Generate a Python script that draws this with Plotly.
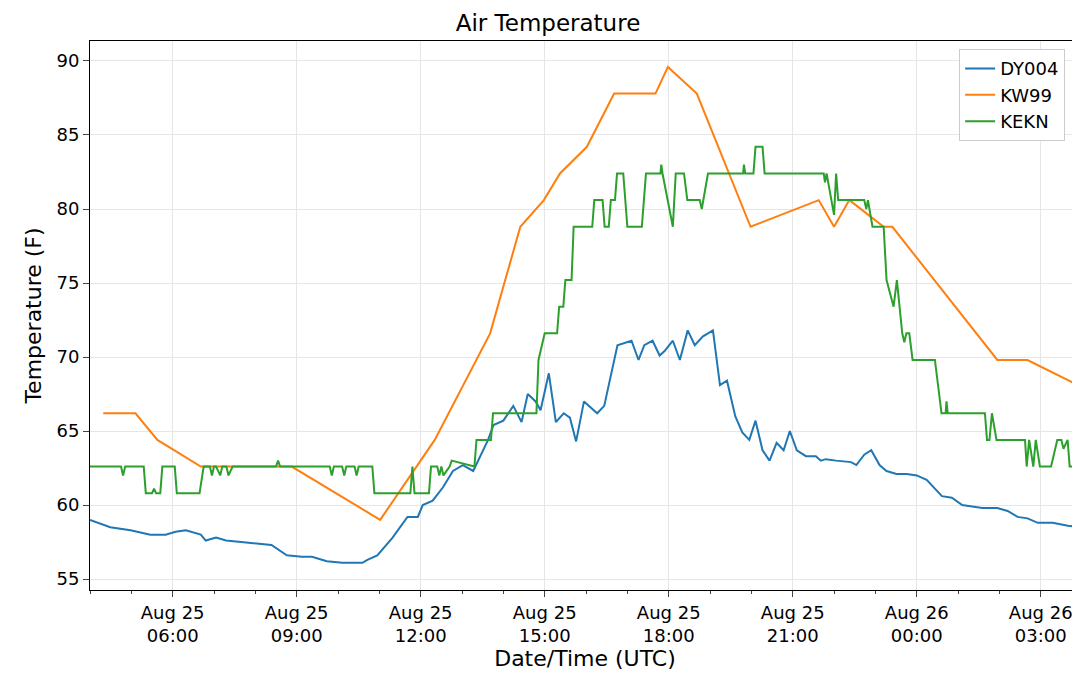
import plotly.graph_objects as go
import pandas as pd


def to_time(hours):
    """Часы от полуночи 25 августа -> метки времени."""
    return [pd.Timestamp("2025-08-25") + pd.Timedelta(hours=h) for h in hours]


dy004 = {
    'h': [4.0, 4.49, 4.98, 5.46, 5.83, 6.07, 6.32, 6.68, 6.80, 7.05, 7.29, 7.66, 8.02, 8.39, 8.76, 9.12,
          9.37, 9.73, 10.10, 10.59, 10.71, 10.95, 11.32, 11.68, 11.93, 12.05, 12.29, 12.54, 12.78, 13.02,
          13.27, 13.39, 13.63, 13.76, 14.0, 14.24, 14.44, 14.59, 14.78, 14.90, 15.10, 15.27, 15.46, 15.61,
          15.76, 15.95, 16.27, 16.44, 16.76, 17.10, 17.27, 17.41, 17.61, 17.78, 17.90, 18.10, 18.27, 18.46,
          18.63, 18.83, 19.07, 19.24, 19.41, 19.61, 19.78, 19.95, 20.10, 20.27, 20.44, 20.61, 20.78, 20.93,
          21.10, 21.32, 21.56, 21.68, 21.80, 22.05, 22.41, 22.54, 22.73, 22.90, 23.10, 23.27, 23.51, 23.76,
          24.0, 24.24, 24.61, 24.85, 25.10, 25.34, 25.59, 25.95, 26.20, 26.44, 26.68, 26.93, 27.29, 27.66, 27.95],
    'y': [59.0, 58.5, 58.3, 58.0, 58.0, 58.2, 58.3, 58.0, 57.6, 57.8, 57.6, 57.5, 57.4, 57.3, 56.6, 56.5,
          56.5, 56.2, 56.1, 56.1, 56.3, 56.6, 57.8, 59.2, 59.2, 60.0, 60.3, 61.2, 62.3, 62.7,
          62.3, 63.0, 64.4, 65.4, 65.7, 66.7, 65.6, 67.5, 67.0, 66.4, 68.9, 65.6, 66.2, 65.9,
          64.3, 67.0, 66.2, 66.7, 70.8, 71.1, 69.8, 70.8, 71.1, 70.1, 70.4, 71.1, 69.8, 71.8,
          70.8, 71.4, 71.8, 68.1, 68.4, 66.0, 64.9, 64.4, 65.7, 63.7, 63.0, 64.2, 63.7, 65.0,
          63.7, 63.3, 63.3, 63.0, 63.1, 63.0, 62.9, 62.7, 63.4, 63.7, 62.7, 62.3, 62.1, 62.1,
          62.0, 61.7, 60.6, 60.5, 60.0, 59.9, 59.8, 59.8, 59.6, 59.2, 59.1, 58.8, 58.8, 58.6, 58.5],
}

kw99 = {
    'h': [4.32, 5.10, 5.63, 6.68, 8.88, 11.02, 12.34, 13.68, 14.41, 14.98, 15.37, 16.02, 16.68, 17.68,
          17.98, 18.68, 19.98, 21.63, 22.0, 22.37, 23.2, 23.41, 25.95, 26.68, 27.98],
    'y': [66.2, 66.2, 64.4, 62.6, 62.6, 59.0, 64.4, 71.6, 78.8, 80.6, 82.4, 84.2, 87.8, 87.8,
          89.6, 87.8, 78.8, 80.6, 78.8, 80.6, 78.8, 78.8, 69.8, 69.8, 68.0],
}

kekn = {
    'h': [4.0, 4.75, 4.8, 4.85, 5.3, 5.35, 5.5, 5.55, 5.6, 5.7, 5.75, 6.05, 6.1, 6.65, 6.75, 6.9, 6.95, 7.0,
          7.05, 7.15, 7.2, 7.3, 7.35, 7.45, 7.5, 8.5, 8.55, 8.6, 9.8, 9.85, 9.9, 10.1, 10.15, 10.2, 10.4,
          10.45, 10.5, 10.83, 10.88, 11.75, 11.8, 11.85, 12.2, 12.25, 12.4, 12.45, 12.5, 12.55, 12.7, 12.75,
          13.3, 13.35, 13.7, 13.75, 14.8, 14.85, 15.0, 15.3, 15.35, 15.45, 15.5, 15.65, 15.7, 15.8, 16.15,
          16.2, 16.4, 16.45, 16.55, 16.6, 16.7, 16.75, 16.9, 17.0, 17.35, 17.45, 17.8, 17.82, 17.85, 18.1,
          18.17, 18.37, 18.45, 18.75, 18.8, 18.95, 19.8, 19.82, 19.85, 20.05, 20.1, 20.27, 20.32, 21.75,
          21.78, 21.82, 22.0, 22.05, 22.1, 22.17, 22.73, 22.78, 22.82, 22.93, 23.2, 23.27, 23.44, 23.52,
          23.65, 23.7, 23.75, 23.82, 23.9, 24.0, 24.44, 24.6, 24.7, 24.72, 24.75, 25.65, 25.7, 25.76,
          25.82, 25.93, 26.62, 26.66, 26.72, 26.82, 26.88, 26.98, 27.1, 27.25, 27.4, 27.5, 27.55, 27.65, 27.7, 27.95],
    'y': [62.6, 62.6, 62.0, 62.6, 62.6, 60.8, 60.8, 61.1, 60.8, 60.8, 62.6, 62.6, 60.8, 60.8, 62.6, 62.6, 62.0, 62.6,
          62.6, 62.0, 62.6, 62.6, 62.0, 62.6, 62.6, 62.6, 63.0, 62.6, 62.6, 62.0, 62.6, 62.6, 62.0, 62.6, 62.6,
          62.0, 62.6, 62.6, 60.8, 60.8, 62.6, 60.8, 60.8, 62.6, 62.6, 62.0, 62.6, 62.0, 62.6, 63.0,
          62.6, 64.4, 64.4, 66.2, 66.2, 69.8, 71.6, 71.6, 73.4, 73.4, 75.2, 75.2, 78.8, 78.8, 78.8,
          80.6, 80.6, 78.8, 78.8, 80.6, 80.6, 82.4, 82.4, 78.8, 78.8, 82.4, 82.4, 83.0, 82.4, 78.8,
          82.4, 82.4, 80.6, 80.6, 80.0, 82.4, 82.4, 83.0, 82.4, 82.4, 84.2, 84.2, 82.4, 82.4,
          81.8, 82.4, 79.6, 82.4, 80.6, 80.6, 80.6, 80.0, 80.6, 78.8, 78.8, 75.2, 73.4, 75.2,
          71.6, 71.0, 71.6, 71.6, 69.8, 69.8, 69.8, 66.2, 66.2, 67.0, 66.2, 66.2, 64.4, 64.4,
          66.2, 64.4, 64.4, 62.6, 64.4, 62.6, 64.4, 62.6, 62.6, 62.6, 64.4, 64.4, 63.8, 64.4, 62.6, 62.6],
}

tick_hours = [6, 9, 12, 15, 18, 21, 24, 27]
tick_text = ["Aug 25<br>06:00", "Aug 25<br>09:00", "Aug 25<br>12:00", "Aug 25<br>15:00",
             "Aug 25<br>18:00", "Aug 25<br>21:00", "Aug 26<br>00:00", "Aug 26<br>03:00"]

fig = go.Figure(
    data=[
        go.Scatter(x=to_time(dy004['h']), y=dy004['y'], mode="lines", name="DY004",
                   line=dict(color="#1f77b4", width=2)),
        go.Scatter(x=to_time(kw99['h']), y=kw99['y'], mode="lines", name="KW99",
                   line=dict(color="#ff7f0e", width=2)),
        go.Scatter(x=to_time(kekn['h']), y=kekn['y'], mode="lines", name="KEKN",
                   line=dict(color="#2ca02c", width=2)),
    ],
    layout_title_text="Air Temperature"
)
fig.update_layout(
    width=1080, height=677,
    font=dict(family="DejaVu Sans", size=18, color="black"),
    title=dict(x=0.5, xanchor="center", y=0.978, yanchor="middle", font=dict(size=23)),
    plot_bgcolor="white", paper_bgcolor="white",
    margin=dict(l=82, r=8, t=33, b=95),
    legend=dict(x=0.985, y=0.985, xanchor="right", yanchor="top", bordercolor="#cccccc",
                borderwidth=1, font=dict(size=18)),
)
fig.update_xaxes(
    range=to_time([4.0, 27.95]), tickvals=to_time(tick_hours), ticktext=tick_text,
    showgrid=True, gridcolor="#e6e6e6", showline=True, linecolor="black", mirror=True,
    ticks="outside", ticklen=6, title_text="Date/Time (UTC)", title_standoff=0, automargin=False,
    minor=dict(dtick=3600000, ticks="outside", ticklen=3, showgrid=False),
)
fig.update_yaxes(
    range=[54.26, 91.35], tickvals=[55, 60, 65, 70, 75, 80, 85, 90],
    showgrid=True, gridcolor="#e6e6e6", showline=True, linecolor="black", mirror=True,
    ticks="outside", ticklen=6, title_text="Temperature (F)", zeroline=False, automargin=False,
    title_standoff=8,
)

fig.write_html("out.html")
